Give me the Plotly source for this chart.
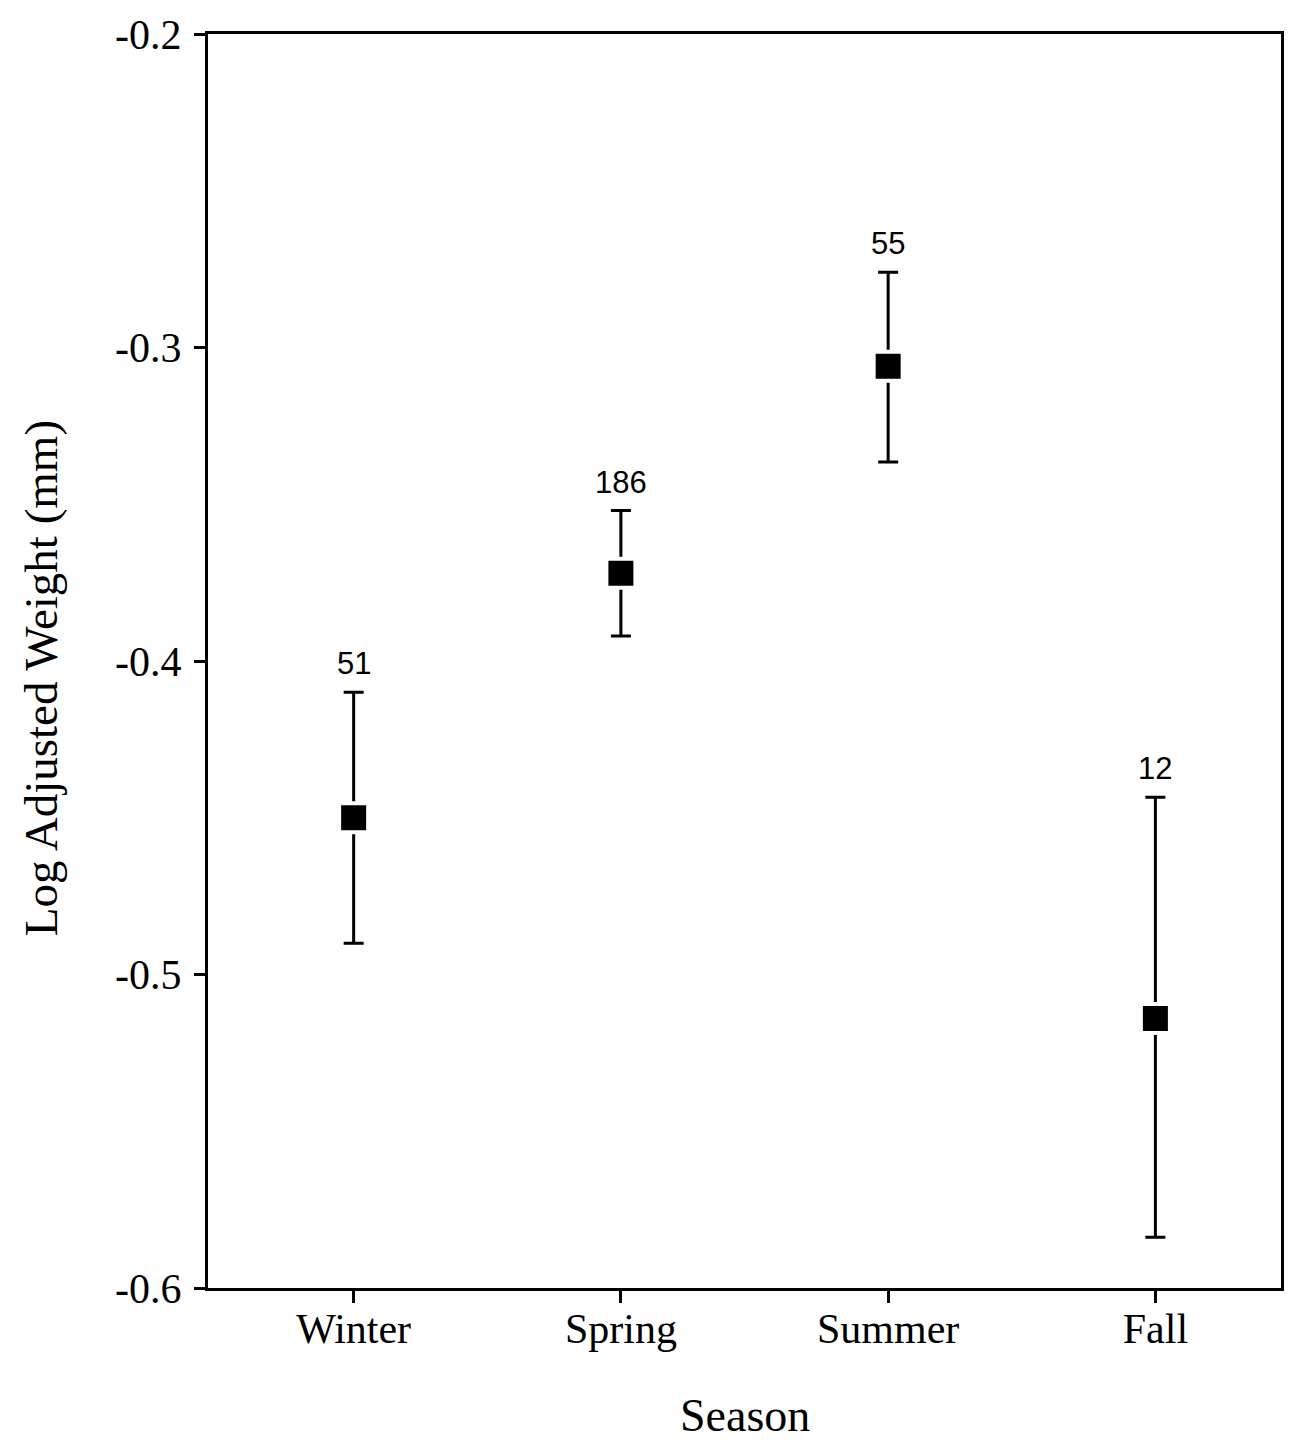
import plotly.graph_objects as go

seasons = ["Winter", "Spring", "Summer", "Fall"]
means = [-0.450, -0.372, -0.306, -0.514]
upper = [-0.410, -0.352, -0.276, -0.4435]
lower = [-0.490, -0.392, -0.3365, -0.5838]
counts = ["51", "186", "55", "12"]
y_ticks = [-0.6, -0.5, -0.4, -0.3, -0.2]
y_tick_text = ["-0.6", "-0.5", "-0.4", "-0.3", "-0.2"]

xpos = list(range(len(seasons)))
err_plus = [u - m for u, m in zip(upper, means)]
err_minus = [m - l for m, l in zip(means, lower)]

serif = "Liberation Serif, Times New Roman, serif"
sans = "Liberation Sans, Arial, sans-serif"

fig = go.Figure()
fig.add_trace(go.Scatter(
    x=xpos, y=means, mode="markers",
    marker=dict(symbol="square", size=29, color="black",
                line=dict(color="white", width=4)),
    error_y=dict(type="data", symmetric=False, array=err_plus,
                 arrayminus=err_minus, color="black", thickness=3, width=10),
    showlegend=False,
))

for x, u, c in zip(xpos, upper, counts):
    fig.add_annotation(x=x, y=u, text=c, showarrow=False, yanchor="bottom",
                       yshift=9, font=dict(family=sans, size=31, color="black"))

fig.add_annotation(xref="paper", yref="paper", x=-0.156, y=0.486, text="Log Adjusted Weight (mm)",
                   textangle=-90, showarrow=False, xanchor="center", yanchor="middle",
                   font=dict(family=serif, size=47, color="black"))
fig.add_annotation(xref="paper", yref="paper", x=0.5, y=-0.102, text="Season",
                   showarrow=False, xanchor="center", yanchor="middle",
                   font=dict(family=serif, size=46, color="black"))

fig.update_xaxes(range=[-0.545, 3.470], tickvals=xpos, ticktext=seasons,
                 ticks="outside", ticklen=12, tickwidth=3, tickcolor="black",
                 ticklabelstandoff=-10,
                 showline=True, linewidth=3, linecolor="black", mirror=True,
                 showgrid=False, zeroline=False,
                 tickfont=dict(family=serif, size=42, color="black"))
fig.update_yaxes(range=[-0.6, -0.2], tickvals=y_ticks, ticktext=y_tick_text,
                 ticks="outside", ticklen=11, tickwidth=3, tickcolor="black",
                 ticklabelstandoff=4,
                 showline=True, linewidth=3, linecolor="black", mirror=True,
                 showgrid=False, zeroline=False,
                 tickfont=dict(family=serif, size=42, color="black"))

fig.update_layout(width=1296, height=1440,
                  margin=dict(l=208, r=13, t=29, b=152),
                  plot_bgcolor="white", paper_bgcolor="white")

fig.write_html("out.html", config={"displayModeBar": False},
               post_script="document.body.style.margin='0';")
